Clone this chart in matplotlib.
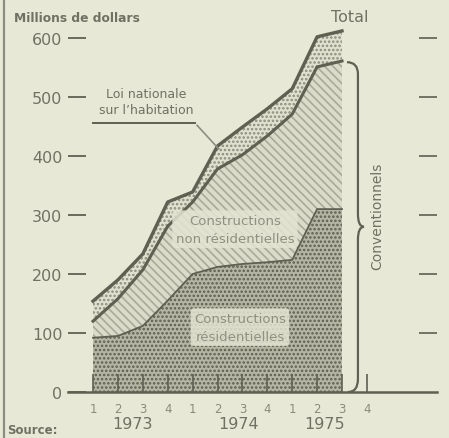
import numpy as np
import matplotlib.pyplot as plt
from matplotlib.path import Path
from matplotlib.patches import PathPatch
from matplotlib.lines import Line2D

# quarters 1973 Q1 .. 1975 Q3, millions de dollars
quarters = ["1", "2", "3", "4", "1", "2", "3", "4", "1", "2", "3", "4"]
years = ["1973", "1974", "1975"]
residential = [92, 95, 112, 155, 200, 212, 217, 220, 224, 310, 310]
non_residential = [28, 63, 95, 126, 122, 166, 185, 214, 247, 241, 251]
lnh = [34, 32, 27, 41, 17, 39, 47, 46, 43, 51, 51]

bg = '#e7e9d6'
ink = '#5f6052'
txt = '#707163'

plt.rcParams['font.family'] = ['DejaVu Sans']
plt.rcParams['hatch.linewidth'] = 1.2

x = np.arange(len(residential))
res = np.array(residential)
conv = res + np.array(non_residential)
total = conv + np.array(lnh)

W, H = 449, 439
fig = plt.figure(figsize=(W / 100, H / 100), dpi=100, facecolor=bg)
# plot area: x=0 at px 93, 24.9 px per quarter ; y=0 at px 393, 0.59 px per unit
left_px, right_px, base_px = 86, 437, 393
ytop = 660
ax = fig.add_axes([left_px / W, (H - base_px) / H,
                   (right_px - left_px) / W, ytop * 0.59 / H])
ax.set_facecolor(bg)
ax.set_xlim((left_px - 93) / 24.9, (right_px - 93) / 24.9)
ax.set_ylim(0, ytop)

# stacked areas
ax.fill_between(x, 0, res, facecolor='#b4b6a3', edgecolor='#5c5d4f',
                hatch='....', linewidth=0, zorder=1)
ax.fill_between(x, res, conv, facecolor='#dadcc9', edgecolor='#a9ab9a',
                hatch='\\\\\\\\', linewidth=0, zorder=1)
ax.fill_between(x, conv, total, facecolor='#dfe1ce', edgecolor='#8a8b7c',
                hatch='....', linewidth=0, zorder=1)
ax.plot(x, res, color=ink, lw=1.3, zorder=3)
ax.plot(x, conv, color=ink, lw=2.2, zorder=3)
ax.plot(x, total, color=ink, lw=2.4, zorder=3)

# axes / ticks
for s in ax.spines.values():
    s.set_visible(False)
ax.set_yticks(np.arange(0, 700, 100))
ax.tick_params(axis='y', direction='out', length=13, width=1.3, color=ink,
               labelsize=11.5, labelcolor=txt, pad=4)
ax.set_xticks(np.arange(len(quarters)))
ax.set_xticklabels(quarters)
ax.tick_params(axis='x', direction='in', length=13, width=1.2, color=ink,
               labelsize=8.5, labelcolor='#8a8b7c', pad=7)
ax.axhline(0, xmin=-0.052, xmax=1.0, color=ink, lw=1.8, clip_on=False, zorder=4)

ax2 = ax.twinx()
ax2.set_ylim(ax.get_ylim())
ax2.set_yticks(np.arange(100, 700, 100))
ax2.tick_params(axis='y', direction='in', length=13, width=1.2, color=ink,
                labelright=False)
for s in ax2.spines.values():
    s.set_visible(False)

year_pos = [1.57, 5.86, 9.28]
for yp, yl in zip(year_pos, years):
    ax.text(yp, -54, yl, ha='center', va='center', fontsize=11.5,
            color=txt, clip_on=False)

# titles and labels
fig.text(14 / W, 1 - 18 / H, 'Millions de dollars', fontsize=8.8, weight='bold',
         color=txt, va='center', ha='left')
ax.text(10.3, 636, 'Total', fontsize=11.5, color=txt, ha='center', va='center')
ax.text(11.4, 300, 'Conventionnels', rotation=90, fontsize=10, color=txt,
        ha='center', va='center')

ax.text(2.13, 492, 'Loi nationale\nsur l\u2019habitation', fontsize=9,
        color=txt, ha='center', va='center', linespacing=1.3)
ax.plot([0.0, 4.1], [456, 456], color=ink, lw=1.4, zorder=5)
ax.plot([4.18, 5.05], [452, 412], color='#8d8e7f', lw=1.2, zorder=5)

box = dict(boxstyle='round,pad=0.25', facecolor='#e3e5d2', edgecolor='none',
           alpha=0.85)
ax.text(5.7, 276, 'Constructions\nnon r\u00e9sidentielles', fontsize=9.5,
        color='#8f9081', ha='center', va='center', linespacing=1.5,
        bbox=box, zorder=6)
ax.text(5.9, 110, 'Constructions\nr\u00e9sidentielles', fontsize=9.5,
        color='#8f9081', ha='center', va='center', linespacing=1.5,
        bbox=box, zorder=6)

# brace for "Conventionnels"
verts = [(10.2, 559), (10.64, 559), (10.64, 539),
         (10.64, 302),
         (10.64, 280), (10.88, 280),
         (10.64, 280), (10.64, 258),
         (10.64, 22),
         (10.64, 0), (10.24, 0)]
codes = [Path.MOVETO, Path.CURVE3, Path.CURVE3,
         Path.LINETO,
         Path.CURVE3, Path.CURVE3,
         Path.CURVE3, Path.CURVE3,
         Path.LINETO,
         Path.CURVE3, Path.CURVE3]
ax.add_patch(PathPatch(Path(verts, codes), facecolor='none', edgecolor=ink,
                       lw=1.6, clip_on=False, zorder=5))

# frame line at left and source note
fig.add_artist(Line2D([3.5 / W, 3.5 / W], [0, 1], color='#8d8e7f', lw=1.6))
fig.text(7 / W, 2 / H, 'Source:', fontsize=8.5, weight='bold',
         color=txt, va='bottom', ha='left')

fig.savefig('out.png', dpi=100, facecolor=bg)
